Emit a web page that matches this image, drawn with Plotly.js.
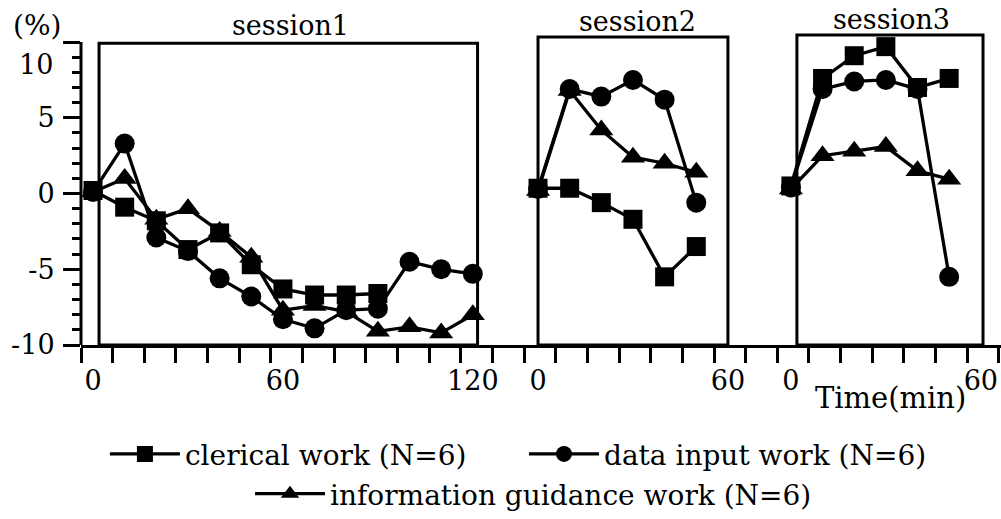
<!DOCTYPE html>
<html>
<head>
<meta charset="utf-8">
<script src="https://cdn.plot.ly/plotly-3.0.1.min.js"></script>
<style>html,body{margin:0;padding:0;background:#fff;}#chart{width:1001px;height:519px;}</style>
</head>
<body>
<div id="chart"></div>
<script>
// ---- data (minutes from start of each session, % change) ----
const seriesNames = ['clerical work (N=6)', 'data input work (N=6)', 'information guidance work (N=6)'];
const sessionLabels = ['session1', 'session2', 'session3'];

const times1 = [0, 10, 20, 30, 40, 50, 60, 70, 80, 90, 100, 110, 120];
const times2 = [0, 10, 20, 30, 40, 50];
const times3 = [0, 10, 20, 30, 40, 50];

const clerical1  = [0.2, -0.9, -1.8, -3.7, -2.6, -4.7, -6.3, -6.7, -6.7, -6.6];
const dataInput1 = [0.1, 3.3, -2.9, -3.8, -5.6, -6.8, -8.3, -8.9, -7.7, -7.6, -4.5, -5.0, -5.3];
const info1      = [0.1, 1.0, -1.7, -1.0, -2.5, -4.2, -7.7, -7.4, -7.8, -9.1, -8.8, -9.2, -8.0];

const clerical2  = [0.35, 0.35, -0.6, -1.7, -5.5, -3.5];
const dataInput2 = [0.3, 6.9, 6.4, 7.5, 6.2, -0.6];
const info2      = [0.2, 6.8, 4.2, 2.4, 2.0, 1.4];

const clerical3  = [0.5, 7.6, 9.1, 9.7, 7.0, 7.6];
const dataInput3 = [0.4, 6.9, 7.4, 7.5, 6.9, -5.5];
const info3      = [0.3, 2.5, 2.8, 3.1, 1.5, 0.95];

const xTickLabels = ['0', '60', '120', '0', '60', '0', '60'];
const xTickMinutes = [0, 60, 120, 0, 60, 0, 60];
const xTickSession = [0, 0, 0, 1, 1, 2, 2];
const yTickVals = [-10, -5, 0, 5, 10];
const yTickText = ['-10', '-5', '0', '5', ''];

// ---- layout helpers (positions on the shared time line) ----
const sessionOffset = [3.8, 144.4, 224.3];
const frames = [[1.9, 121.5, 9.93], [0, 60, 10.33], [1.9, 60.7, 10.46]];
const titlePos = [[0.2272, 1.0255], [0.6054, 1.0383], [0.8815, 1.0446]];

function joinSessions(timesArr, valsArr) {
  const x = [], y = [];
  valsArr.forEach((vals, s) => {
    if (s > 0) { x.push(null); y.push(null); }
    vals.forEach((v, i) => { x.push(sessionOffset[s] + timesArr[s][i]); y.push(v); });
  });
  return {x, y};
}
const T = [times1, times2, times3];
const c = joinSessions(T, [clerical1, clerical2, clerical3]);
const d = joinSessions(T, [dataInput1, dataInput2, dataInput3]);
const inf = joinSessions(T, [info1, info2, info3]);

const FONT = 'DejaVu Serif';
const lineStyle = {color: '#000', width: 3.3};
const traces = [
  {x: c.x, y: c.y, name: seriesNames[0], mode: 'lines+markers', line: lineStyle,
   marker: {symbol: 'square', size: 19, color: '#000'}, legend: 'legend', connectgaps: false},
  {x: d.x, y: d.y, name: seriesNames[1], mode: 'lines+markers', line: lineStyle,
   marker: {symbol: 'circle', size: 20, color: '#000'}, legend: 'legend2', connectgaps: false},
  {x: inf.x, y: inf.y, name: seriesNames[2], mode: 'lines+markers', line: lineStyle,
   marker: {symbol: 'triangle-up', size: 21, color: '#000'}, legend: 'legend3', connectgaps: false}
];

const xRange = [0, 290.68];
const shapes = frames.map((f, s) => ({
  type: 'rect', xref: 'x', yref: 'y',
  x0: sessionOffset[s] + f[0], x1: sessionOffset[s] + f[1], y0: -10, y1: f[2],
  line: {color: '#000', width: 3}, fillcolor: 'rgba(0,0,0,0)', layer: 'below'
}));
shapes.push({type: 'line', xref: 'paper', yref: 'y', x0: 0, x1: 0, y0: -10, y1: 10,
  line: {color: '#000', width: 3}});

const annotations = sessionLabels.map((t, s) => ({
  text: t, xref: 'paper', yref: 'paper', x: titlePos[s][0], y: titlePos[s][1],
  xanchor: 'center', yanchor: 'middle', showarrow: false, font: {family: FONT, size: 27, color: '#000'}
}));
annotations.push({text: '(%)', xref: 'paper', yref: 'paper', x: -0.0478, y: 1.0255,
  xanchor: 'center', yanchor: 'middle', showarrow: false, font: {family: FONT, size: 28, color: '#000'}});
annotations.push({text: '10', xref: 'paper', yref: 'y', x: -0.028, y: 8.55,
  xanchor: 'right', yanchor: 'middle', showarrow: false, font: {family: FONT, size: 27, color: '#000'}});
annotations.push({text: 'Time(min)', xref: 'paper', yref: 'paper', x: 0.8804, y: -0.169,
  xanchor: 'center', yanchor: 'middle', showarrow: false, font: {family: FONT, size: 29, color: '#000'}});

const legendBase = {orientation: 'h', xanchor: 'left', yanchor: 'middle', bgcolor: 'rgba(0,0,0,0)',
  font: {family: FONT, size: 28, color: '#000'}, itemwidth: 70, itemclick: false, itemdoubleclick: false};

const layout = {
  width: 1001, height: 519,
  margin: {l: 81, r: 0, t: 33, b: 172, pad: 0},
  paper_bgcolor: '#fff', plot_bgcolor: '#fff',
  font: {family: FONT, size: 27, color: '#000'},
  xaxis: {range: xRange, tickmode: 'array',
    tickvals: xTickMinutes.map((m, i) => sessionOffset[xTickSession[i]] + m), ticktext: xTickLabels,
    ticks: 'outside', ticklen: 10, tickwidth: 1, tickcolor: 'rgba(0,0,0,0)',
    tickfont: {family: FONT, size: 27, color: '#000'},
    minor: {tick0: 0, dtick: 10, ticks: 'outside', ticklen: 15, tickwidth: 3, tickcolor: '#000', showgrid: false},
    showline: true, linewidth: 3, linecolor: '#000', showgrid: false, zeroline: false},
  yaxis: {range: [-10, 10.6], tickmode: 'array', tickvals: yTickVals, ticktext: yTickText,
    ticks: 'outside', ticklen: 17, tickwidth: 3, tickcolor: '#000', showline: false, showgrid: false, zeroline: false,
    ticklabelstandoff: 3, tickfont: {family: FONT, size: 27, color: '#000'},
    minor: {tick0: 0, dtick: 1, ticks: 'outside', ticklen: 8, tickwidth: 3, tickcolor: '#000', showgrid: false}},
  shapes: shapes,
  annotations: annotations,
  legend: Object.assign({}, legendBase, {x: 0.026, y: -0.35}),
  legend2: Object.assign({}, legendBase, {x: 0.4815, y: -0.35}),
  legend3: Object.assign({}, legendBase, {x: 0.1837, y: -0.478}),
  showlegend: true
};

Plotly.newPlot('chart', traces, layout, {displayModeBar: false, staticPlot: true});
</script>
</body>
</html>
